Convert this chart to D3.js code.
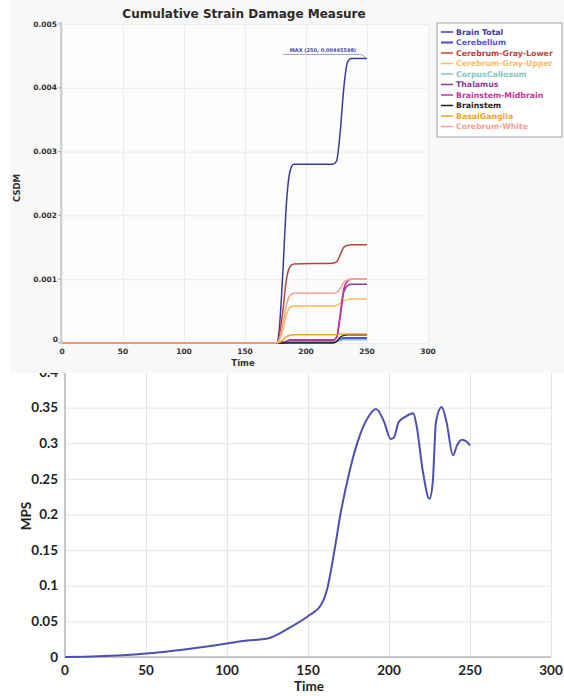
<!DOCTYPE html>
<html>
<head>
<meta charset="utf-8">
<script src="https://cdn.jsdelivr.net/npm/d3@7"></script>
<style>
  body { margin: 0; background: #fff; }
  svg { display: block; }
</style>
</head>
<body>
<div id="chart"></div>
<script>
// top chart: cumulative strain damage measure
const csdmTime = [0, 176, 178, 181, 184, 187, 190, 222, 225, 228, 231, 234, 237, 250];
const csdmNames = ['Brain Total', 'Cerebellum', 'Cerebrum-Gray-Lower', 'Cerebrum-Gray-Upper',
  'CorpusCallosum', 'Thalamus', 'Brainstem-Midbrain', 'Brainstem', 'BasalGanglia', 'Cerebrum-White'];
const csdmColors = ['#3a3a98', '#5656cc', '#b4473c', '#f6bb60', '#86c4c2',
  '#8a3c9c', '#c2379a', '#1e1e1e', '#f0a22a', '#f2a294'];
const brainTotal = [0, 0, 0.0002, 0.0011, 0.0022, 0.0027, 0.0028, 0.0028, 0.00285, 0.0033, 0.0040, 0.0044, 0.00446, 0.00446];
const cerebellum = [0, 0, 0, 0, 0.00001, 0.00002, 0.00002, 0.00002, 0.00003, 0.00006, 0.00008, 0.00008, 0.00008, 0.00008];
const grayLower = [0, 0, 0.0001, 0.0005, 0.0010, 0.0012, 0.00124, 0.00125, 0.00127, 0.00138, 0.0015, 0.00153, 0.00154, 0.00154];
const grayUpper = [0, 0, 0.00005, 0.0002, 0.00045, 0.00056, 0.00058, 0.00058, 0.00059, 0.00062, 0.00066, 0.00068, 0.00069, 0.00069];
const corpusCallosum = [0, 0, 0, 0.00001, 0.00002, 0.00003, 0.00003, 0.00003, 0.00003, 0.00004, 0.00005, 0.00005, 0.00005, 0.00005];
const thalamus = [0, 0, 0, 0.00001, 0.00003, 0.00005, 0.00005, 0.00005, 0.00008, 0.0004, 0.0008, 0.0009, 0.00092, 0.00092];
const midbrain = [0, 0, 0, 0.00001, 0.00002, 0.00004, 0.00004, 0.00004, 0.00009, 0.00045, 0.00085, 0.00097, 0.001, 0.001];
const brainstem = [0, 0, 0, 0, 0, 0, 0, 0, 0.00002, 0.00009, 0.00012, 0.00013, 0.00013, 0.00013];
const basalGanglia = [0, 0, 0.00001, 0.00005, 0.0001, 0.00012, 0.00013, 0.00013, 0.00013, 0.00014, 0.00014, 0.00014, 0.00014, 0.00014];
const cerebrumWhite = [0, 0, 0.00005, 0.0003, 0.0006, 0.00075, 0.00078, 0.00078, 0.00079, 0.00085, 0.00095, 0.00099, 0.001, 0.001];
const csdmSeries = [brainTotal, cerebellum, grayLower, grayUpper, corpusCallosum,
  thalamus, midbrain, brainstem, basalGanglia, cerebrumWhite];
const csdmTicks = [0, 0.001, 0.002, 0.003, 0.004, 0.005];
const timeTicks = [0, 50, 100, 150, 200, 250, 300];

// bottom chart: maximum principal strain
const mpsTime = [0, 20, 50, 75, 100, 110, 125, 140, 151, 158, 162, 166, 170, 176, 182, 187, 192, 197, 201, 203, 206, 210, 215, 217, 221, 225, 227, 229, 232.5, 235.5, 239.5, 242, 245, 248, 250];
const mpsValue = [0, 0.001, 0.005, 0.011, 0.019, 0.0226, 0.026, 0.043, 0.059, 0.073, 0.097, 0.145, 0.2, 0.264, 0.311, 0.336, 0.348, 0.33, 0.306, 0.308, 0.33, 0.337, 0.342, 0.325, 0.259, 0.222, 0.245, 0.33, 0.351, 0.33, 0.283, 0.297, 0.305, 0.302, 0.297];
const mpsTicks = [0, 0.05, 0.1, 0.15, 0.2, 0.25, 0.3, 0.35, 0.4];

const W = 564, H = 696;
const svg = d3.select('#chart').append('svg').attr('width', W).attr('height', H);

// ---------- bottom chart ----------
const bx = d3.scaleLinear().domain([0, 300]).range([65, 551]);
const by = d3.scaleLinear().domain([0, 0.4]).range([657, 372]);
const bottomG = svg.append('g').style('font-family', 'Lato, "Liberation Sans", sans-serif');

bottomG.append('g')
  .attr('transform', 'translate(0,657)')
  .call(d3.axisBottom(bx).tickValues(timeTicks).tickSize(-(657 - 372)).tickFormat(''))
  .call(g => g.select('.domain').remove())
  .call(g => g.selectAll('line').attr('stroke', '#e4e4e4'));
bottomG.append('g')
  .attr('transform', 'translate(65,0)')
  .call(d3.axisLeft(by).tickValues(mpsTicks).tickSize(-(551 - 65)).tickFormat(''))
  .call(g => g.select('.domain').remove())
  .call(g => g.selectAll('line').attr('stroke', '#e4e4e4'));

bottomG.append('line').attr('x1', 65).attr('x2', 65).attr('y1', 372).attr('y2', 657).attr('stroke', '#9a9a9a');
bottomG.append('line').attr('x1', 65).attr('x2', 551).attr('y1', 657).attr('y2', 657).attr('stroke', '#9a9a9a');

bottomG.selectAll('.ytl').data(mpsTicks).enter().append('text')
  .attr('x', 58).attr('y', d => by(d)).attr('dy', '0.35em')
  .attr('text-anchor', 'end').attr('font-size', 13.5).attr('font-weight', 'bold').attr('fill', '#222')
  .text(d => d3.format('')(d));
bottomG.selectAll('.xtl').data(timeTicks).enter().append('text')
  .attr('x', d => bx(d)).attr('y', 675)
  .attr('text-anchor', 'middle').attr('font-size', 13.5).attr('font-weight', 'bold').attr('fill', '#222')
  .text(d => d);
bottomG.append('text').attr('x', 309).attr('y', 691).attr('text-anchor', 'middle')
  .attr('font-size', 13.5).attr('font-weight', 'bold').attr('fill', '#222').text('Time');
bottomG.append('text').attr('transform', 'translate(31,516) rotate(-90)').attr('text-anchor', 'middle')
  .attr('font-size', 13.5).attr('font-weight', 'bold').attr('fill', '#222').text('MPS');

const mpsLine = d3.line()
  .x((d, i) => bx(mpsTime[i]))
  .y(d => by(d))
  .curve(d3.curveMonotoneX);
bottomG.append('path').datum(mpsValue)
  .attr('d', mpsLine).attr('fill', 'none').attr('stroke', '#4f4fb0').attr('stroke-width', 2);

// ---------- top chart ----------
const tx = d3.scaleLinear().domain([0, 300]).range([62, 428]);
const ty = d3.scaleLinear().domain([0, 0.005]).range([343, 24]);
const topG = svg.append('g').style('font-family', '"DejaVu Sans", Verdana, sans-serif');

topG.append('rect').attr('x', 10).attr('y', 0).attr('width', W - 10).attr('height', 373).attr('fill', '#f8f8f8');
topG.append('rect').attr('x', 62).attr('y', 24).attr('width', 366).attr('height', 319).attr('fill', '#fcfcfd');

topG.append('g')
  .attr('transform', 'translate(0,343)')
  .call(d3.axisBottom(tx).tickValues(timeTicks).tickSize(-(343 - 24)).tickFormat(''))
  .call(g => g.select('.domain').remove())
  .call(g => g.selectAll('line').attr('stroke', '#ececec'));
topG.append('g')
  .attr('transform', 'translate(62,0)')
  .call(d3.axisLeft(ty).tickValues(csdmTicks).tickSize(-(428 - 62)).tickFormat(''))
  .call(g => g.select('.domain').remove())
  .call(g => g.selectAll('line').attr('stroke', '#ececec'));

topG.append('line').attr('x1', 61).attr('x2', 61).attr('y1', 22).attr('y2', 344).attr('stroke', '#a8a8a8');
topG.selectAll('.tk').data(csdmTicks).enter().append('line')
  .attr('x1', 58).attr('x2', 61).attr('y1', d => ty(d)).attr('y2', d => ty(d)).attr('stroke', '#a8a8a8');

topG.selectAll('.ytl').data(csdmTicks).enter().append('text')
  .attr('x', d => d === 0 ? 58 : 57).attr('y', d => ty(d)).attr('dy', d => d === 0 ? '-0.1em' : '0.35em')
  .attr('text-anchor', 'end').attr('font-size', 7.5).attr('font-weight', 'bold').attr('fill', '#333')
  .text(d => d === 0 ? '0' : d3.format('.3f')(d));
topG.selectAll('.xtl').data(timeTicks).enter().append('text')
  .attr('x', d => tx(d)).attr('y', 354)
  .attr('text-anchor', 'middle').attr('font-size', 7.5).attr('font-weight', 'bold').attr('fill', '#333')
  .text(d => d);
topG.append('text').attr('x', 243).attr('y', 366).attr('text-anchor', 'middle')
  .attr('font-size', 8.5).attr('font-weight', 'bold').attr('fill', '#333').text('Time');
topG.append('text').attr('transform', 'translate(20,188) rotate(-90)').attr('text-anchor', 'middle')
  .attr('font-size', 8.5).attr('font-weight', 'bold').attr('fill', '#333').text('CSDM');
topG.append('text').attr('x', 244).attr('y', 18).attr('text-anchor', 'middle')
  .attr('font-size', 12).attr('font-weight', 'bold').attr('fill', '#2a2a2a').text('Cumulative Strain Damage Measure');

const csdmLine = d3.line()
  .x((d, i) => tx(csdmTime[i]))
  .y(d => ty(d))
  .curve(d3.curveMonotoneX);
const drawOrder = [1, 4, 0, 2, 3, 5, 6, 7, 8, 9];
drawOrder.forEach(k => {
  topG.append('path').datum(csdmSeries[k])
    .attr('d', csdmLine).attr('fill', 'none')
    .attr('stroke', csdmColors[k]).attr('stroke-width', k === 1 ? 2 : 1.5);
});

// max annotation
const maxVal = d3.max(brainTotal);
const maxX = tx(250), maxY = ty(maxVal);
topG.append('text').attr('x', maxX - 44).attr('y', maxY - 6).attr('text-anchor', 'middle')
  .attr('font-size', 5).attr('font-weight', 'bold').attr('fill', '#4545a8')
  .text('MAX (250, 0.00445598)');
topG.append('line').attr('x1', maxX - 84).attr('x2', maxX - 6).attr('y1', maxY - 4).attr('y2', maxY - 4)
  .attr('stroke', '#8888c8').attr('stroke-width', 0.8);
topG.append('line').attr('x1', maxX - 6).attr('x2', maxX).attr('y1', maxY - 4).attr('y2', maxY)
  .attr('stroke', '#8888c8').attr('stroke-width', 0.8);

// legend
const legend = topG.append('g');
legend.append('rect').attr('x', 437).attr('y', 23).attr('width', 125).attr('height', 114)
  .attr('fill', '#fff').attr('stroke', '#a0a0a0').attr('stroke-width', 1);
csdmNames.forEach((name, i) => {
  const yy = 32 + i * 10.5;
  legend.append('line').attr('x1', 441).attr('x2', 453).attr('y1', yy).attr('y2', yy)
    .attr('stroke', csdmColors[i]).attr('stroke-width', i === 1 ? 2.2 : 1.5);
  legend.append('text').attr('x', 456).attr('y', yy).attr('dy', '0.35em')
    .attr('font-size', 7.8).attr('font-weight', 'bold').attr('fill', csdmColors[i]).text(name);
});
</script>
</body>
</html>
